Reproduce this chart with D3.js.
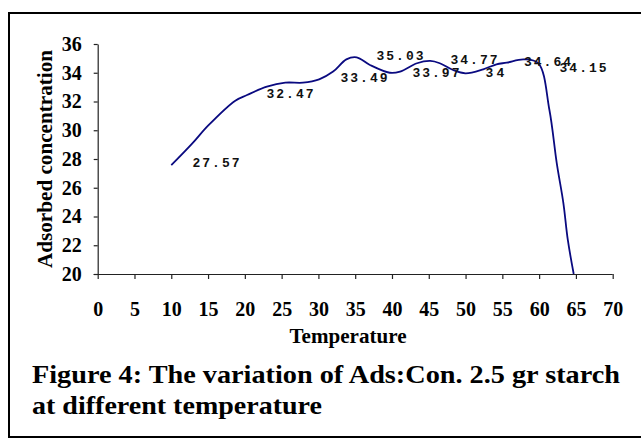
<!DOCTYPE html>
<html>
<head>
<meta charset="utf-8">
<script src="https://cdn.jsdelivr.net/npm/d3@7"></script>
<style>
  html, body { margin: 0; padding: 0; background: #fff; }
  svg { display: block; }
</style>
</head>
<body>
<svg id="chart" width="641" height="439"></svg>
<script>
// ---- data ----
const temperature = [10, 12.8, 15, 18.7, 20.3, 23, 25.5, 27.9, 30.1, 32, 33.8, 35.2, 37, 39.7, 41.1, 43.4, 45.2, 46.5, 48.3, 50, 52.4, 54.2, 55.6, 57.9, 59.9, 61.4, 62.4, 63.3, 63.9, 64.7];
const adsorbed    = [27.57, 29.05, 30.32, 32.06, 32.45, 33.03, 33.31, 33.31, 33.54, 34.08, 34.93, 35.07, 34.54, 34.0, 34.08, 34.66, 34.82, 34.66, 34.19, 33.96, 34.24, 34.59, 34.7, 34.93, 34.66, 31.41, 27.7, 24.92, 22.37, 20.0];
const labelText   = ["27.57", "32.47", "33.49", "35.03", "33.97", "34.77", "34", "34.64", "34.15"];
const labelTemp   = [16.08, 26.14, 36.2, 41.09, 45.98, 51.15, 54.0, 61.14, 65.97];
const labelValue  = [27.42, 32.22, 33.34, 34.89, 33.73, 34.59, 33.70, 34.47, 34.03];
const xTicks = [0, 5, 10, 15, 20, 25, 30, 35, 40, 45, 50, 55, 60, 65, 70];
const yTicks = [20, 22, 24, 26, 28, 30, 32, 34, 36];
const xTitle = "Temperature";
const yTitle = "Adsorbed concentration";
const caption1 = "Figure 4: The variation of Ads:Con. 2.5 gr starch";
const caption2 = "at different temperature";

// ---- drawing ----
const svg = d3.select("#chart");
const serif = "'Liberation Serif', 'Times New Roman', serif";

svg.append("rect")
  .attr("x", 9).attr("y", 13).attr("width", 660).attr("height", 424)
  .attr("fill", "none").attr("stroke", "#000").attr("stroke-width", 2);

const x = d3.scaleLinear().domain([0, 70]).range([97.7, 612.7]);
const y = d3.scaleLinear().domain([20, 36]).range([274, 44]);

const gy = svg.append("g").attr("transform", `translate(${x(0)},0)`)
  .call(d3.axisLeft(y).tickValues(yTicks).tickSize(4).tickPadding(12).tickSizeOuter(0));
gy.selectAll("text").attr("font-family", serif).attr("font-weight", "bold")
  .attr("font-size", 20).attr("fill", "#000");

const gx = svg.append("g").attr("transform", `translate(0,${y(20)})`)
  .call(d3.axisBottom(x).tickValues(xTicks).tickSize(5).tickPadding(23).tickSizeOuter(0));
gx.selectAll("text").attr("font-family", serif).attr("font-weight", "bold")
  .attr("font-size", 20).attr("fill", "#000");
gx.select(".domain").attr("d", `M${x(0) - 4},0.5H${x(70)}`);
svg.selectAll(".domain, .tick line").attr("stroke", "#222").attr("stroke-width", 1.2);

svg.append("defs").append("clipPath").attr("id", "plotclip")
  .append("rect").attr("x", x(0)).attr("y", y(36) - 10)
  .attr("width", x(70) - x(0)).attr("height", y(20) - y(36) + 10);

const pts = temperature.map((t, i) => [t, adsorbed[i]]);
svg.append("path")
  .attr("clip-path", "url(#plotclip)")
  .attr("d", d3.line().x(d => x(d[0])).y(d => y(d[1])).curve(d3.curveCatmullRom.alpha(0.5))(pts))
  .attr("fill", "none").attr("stroke", "#0a0a80").attr("stroke-width", 1.8);

labelText.forEach((t, i) => {
  svg.append("text")
    .attr("x", x(labelTemp[i])).attr("y", y(labelValue[i]))
    .attr("text-anchor", "middle")
    .attr("font-family", "'Liberation Mono', 'Courier New', monospace")
    .attr("font-weight", "bold").attr("font-size", 13)
    .attr("textLength", t.length * 9.4).attr("lengthAdjust", "spacing")
    .attr("fill", "#111").text(t);
});

svg.append("text")
  .attr("x", 348).attr("y", 343).attr("text-anchor", "middle")
  .attr("font-family", serif).attr("font-weight", "bold").attr("font-size", 21)
  .attr("textLength", 117).attr("lengthAdjust", "spacingAndGlyphs")
  .text(xTitle);

svg.append("text")
  .attr("transform", "translate(52,159) rotate(-90)")
  .attr("text-anchor", "middle")
  .attr("font-family", serif).attr("font-weight", "bold").attr("font-size", 20)
  .attr("textLength", 218).attr("lengthAdjust", "spacingAndGlyphs")
  .text(yTitle);

svg.append("text")
  .attr("x", 32).attr("y", 383)
  .attr("font-family", serif).attr("font-weight", "bold").attr("font-size", 26)
  .attr("textLength", 588).attr("lengthAdjust", "spacingAndGlyphs")
  .text(caption1);
svg.append("text")
  .attr("x", 32).attr("y", 414)
  .attr("font-family", serif).attr("font-weight", "bold").attr("font-size", 26)
  .attr("textLength", 290).attr("lengthAdjust", "spacingAndGlyphs")
  .text(caption2);
</script>
</body>
</html>
